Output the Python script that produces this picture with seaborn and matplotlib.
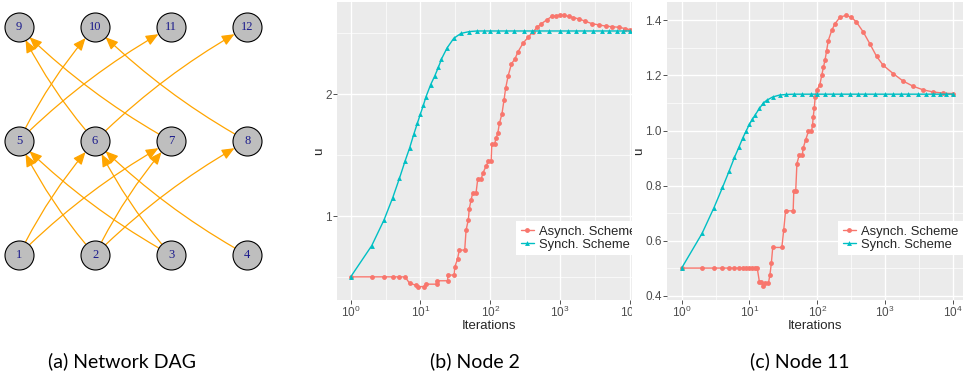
import pandas as pd
import seaborn as sns
import matplotlib.pyplot as plt
from matplotlib.patches import FancyArrowPatch, Rectangle
from matplotlib.ticker import FixedLocator, FixedFormatter

W, H = 973, 381

# ---- (a) network DAG: 3 layers of 4 nodes
node_id = [1, 2, 3, 4, 5, 6, 7, 8, 9, 10, 11, 12]
node_col = [0, 1, 2, 3, 0, 1, 2, 3, 0, 1, 2, 3]
node_row = [0, 0, 0, 0, 1, 1, 1, 1, 2, 2, 2, 2]
edge_src = [1, 1, 2, 2, 2, 3, 3, 4, 5, 5, 6, 6, 7, 8]
edge_dst = [6, 7, 5, 7, 8, 5, 6, 6, 10, 11, 9, 12, 9, 10]

# ---- (b) node 2
b_async_x = [1, 2, 3, 4, 5, 6, 7, 8.5, 9.2, 11.2, 11.9, 17.1, 17.5, 24.4, 24.9, 30.4,
             31, 34, 36, 43, 45, 48.5, 50, 53, 56, 62.5, 66, 74, 78, 87, 94, 103, 105,
             115, 121, 128, 135, 147, 157, 166, 180, 201, 225, 250, 295, 350, 412, 470,
             540, 640, 760, 870, 1000, 1150, 1320, 1550, 1840, 2300, 2850, 3600, 4500,
             5600, 7000, 8500, 10000]
b_async_y = [0.5, 0.5, 0.5, 0.5, 0.5, 0.5, 0.447, 0.433, 0.42, 0.42, 0.44, 0.44, 0.468,
             0.468, 0.515, 0.515, 0.58, 0.65, 0.72, 0.72, 0.885, 0.97, 1.06, 1.13, 1.19,
             1.19, 1.30, 1.30, 1.35, 1.41, 1.45, 1.45, 1.59, 1.59, 1.64, 1.68, 1.76, 1.84,
             1.95, 2.05, 2.15, 2.25, 2.29, 2.35, 2.42, 2.47, 2.515, 2.55, 2.58, 2.61, 2.64,
             2.645, 2.65, 2.648, 2.64, 2.63, 2.62, 2.60, 2.58, 2.57, 2.56, 2.555, 2.55,
             2.54, 2.53]
b_sync_x = [1, 2, 3, 4, 5, 6, 7, 8, 9, 10, 11, 12, 14, 16, 18, 20, 24, 30, 38, 50, 65,
            80, 100, 130, 170, 220, 300, 400, 500, 700, 1000, 1300, 1700, 2200, 3000,
            4000, 5000, 6500, 8000, 10000]
b_sync_y = [0.5, 0.756, 0.967, 1.15, 1.31, 1.45, 1.56, 1.67, 1.76, 1.84, 1.91, 1.98,
            2.08, 2.15, 2.22, 2.29, 2.38, 2.46, 2.50, 2.515, 2.52, 2.52, 2.52, 2.52, 2.52,
            2.52, 2.52, 2.52, 2.52, 2.52, 2.52, 2.52, 2.52, 2.52, 2.52, 2.52, 2.52, 2.52,
            2.52, 2.52]

# ---- (c) node 11
c_async_x = [1, 2, 3, 4, 5, 6, 7, 8, 9, 10, 11, 12, 13, 14, 15, 16, 17, 19, 20, 21, 22,
             30, 32, 34, 44, 45, 48, 50, 54, 60, 62, 67, 74, 82, 85, 87, 90, 93, 98, 109,
             116, 123, 130, 137, 145, 163, 182, 216, 262, 317, 377, 475, 595, 748, 934,
             1310, 1830, 2570, 3600, 5060, 7100, 10000]
c_async_y = [0.5, 0.5, 0.5, 0.5, 0.5, 0.5, 0.5, 0.5, 0.5, 0.5, 0.5, 0.5, 0.5, 0.45, 0.45,
             0.435, 0.445, 0.445, 0.475, 0.518, 0.575, 0.575, 0.64, 0.708, 0.708, 0.78,
             0.78, 0.88, 0.91, 0.91, 0.937, 0.965, 0.997, 0.997, 1.02, 1.05, 1.08, 1.122,
             1.146, 1.167, 1.20, 1.23, 1.257, 1.29, 1.327, 1.364, 1.388, 1.412, 1.418,
             1.412, 1.394, 1.358, 1.315, 1.269, 1.237, 1.207, 1.18, 1.161, 1.148, 1.14,
             1.136, 1.134]
c_sync_x = [1, 2, 3, 4, 5, 6, 7, 8, 9, 10, 11, 12, 14, 16, 18, 22, 28, 35, 45, 60, 80,
            100, 130, 170, 220, 300, 400, 500, 700, 1000, 1300, 1700, 2200, 3000, 4000,
            5000, 6500, 8000, 10000]
c_sync_y = [0.5, 0.626, 0.72, 0.793, 0.852, 0.902, 0.94, 0.974, 1.0, 1.023, 1.04, 1.055,
            1.08, 1.10, 1.11, 1.122, 1.129, 1.131, 1.132, 1.132, 1.132, 1.132, 1.132,
            1.132, 1.132, 1.132, 1.132, 1.132, 1.132, 1.132, 1.132, 1.132, 1.132, 1.132,
            1.132, 1.132, 1.132, 1.132, 1.132]

schemes = ['Asynch. Scheme', 'Synch. Scheme']
colors = {'Asynch. Scheme': '#F8766D', 'Synch. Scheme': '#00BFC4'}
mark = {'Asynch. Scheme': 'o', 'Synch. Scheme': '^'}

b_yticks, b_yminor = [1, 2], [0.5, 1.5, 2.5]
c_yticks = [0.4, 0.6, 0.8, 1.0, 1.2, 1.4]
c_yminor = [0.5, 0.7, 0.9, 1.1, 1.3]
x_ticks = [1, 10, 100, 1000, 10000]
x_minor = [10 ** 0.5, 10 ** 1.5, 10 ** 2.5, 10 ** 3.5]
x_labels = ['$10^{0}$', '$10^{1}$', '$10^{2}$', '$10^{3}$', '$10^{4}$']

captions = ['(a) Network DAG', '(b) Node 2', '(c) Node 11']


def frame(sx, sy, ix, iy):
    return pd.concat([
        pd.DataFrame({'Iterations': sx, 'u': sy, 'scheme': schemes[0]}),
        pd.DataFrame({'Iterations': ix, 'u': iy, 'scheme': schemes[1]}),
    ], ignore_index=True)


sns.set_style('darkgrid', rc={'axes.facecolor': '#EBEBEB', 'grid.color': 'white'})
plt.rcParams['font.family'] = ['Liberation Sans', 'DejaVu Sans']
plt.rcParams['mathtext.default'] = 'regular'

fig = plt.figure(figsize=(W / 100, H / 100), dpi=100)


def px_rect(left, top, right, bottom):
    return [left / W, 1 - bottom / H, (right - left) / W, (bottom - top) / H]


# ---------------- (a)
ax_a = fig.add_axes(px_rect(0, 0, 270, 300))
ax_a.set_axis_off()
ax_a.set_xlim(-0.25, 3.30)
ax_a.set_ylim(-0.395, 2.237)
pos = {n: (c, r) for n, c, r in zip(node_id, node_col, node_row)}
for s, d in zip(edge_src, edge_dst):
    ax_a.add_patch(FancyArrowPatch(pos[s], pos[d], connectionstyle='arc3,rad=-0.07',
                                   arrowstyle='-|>,head_length=7.5,head_width=3.2',
                                   mutation_scale=1, shrinkA=10.5, shrinkB=10.5,
                                   color='#FFA500', lw=0.9, zorder=1))
ax_a.scatter(node_col, node_row, s=436, c='#BEBEBE', edgecolors='black',
             linewidths=0.8, zorder=2)
for n, c, r in zip(node_id, node_col, node_row):
    ax_a.text(c, r, str(n), ha='center', va='center', color='#1A1A8C',
              fontsize=9, family='Liberation Serif', zorder=3)


# ---------------- (b), (c)
def panel(ax, df, xlim, ylim, yticks, yminor, ylabels, ylab_x):
    sns.lineplot(data=df, x='Iterations', y='u', hue='scheme', style='scheme',
                 palette=colors, markers=mark, dashes=False, estimator=None,
                 sort=False, ax=ax, lw=1.0, markersize=3.5, markeredgewidth=0)
    ax.set_xscale('log')
    ax.set_xlim(*xlim)
    ax.set_ylim(*ylim)
    ax.xaxis.set_major_locator(FixedLocator(x_ticks))
    ax.xaxis.set_major_formatter(FixedFormatter(x_labels))
    ax.xaxis.set_minor_locator(FixedLocator(x_minor))
    ax.yaxis.set_major_locator(FixedLocator(yticks))
    ax.yaxis.set_major_formatter(FixedFormatter(ylabels))
    ax.yaxis.set_minor_locator(FixedLocator(yminor))
    ax.grid(which='major', color='white', lw=1.0)
    ax.grid(which='minor', color='white', lw=0.5)
    ax.tick_params(which='major', length=2.75, width=0.6, color='#333333',
                   labelcolor='#4D4D4D', labelsize=8.5, pad=1.0, bottom=True, left=True)
    ax.tick_params(which='minor', length=0)
    for sp in ax.spines.values():
        sp.set_visible(False)
    ax.set_xlabel('Iterations', fontsize=9.5)
    ax.set_ylabel('u', fontsize=9.5)
    ax.xaxis.set_label_coords(0.5, -0.066)
    ax.yaxis.set_label_coords(ylab_x, 0.5)
    h, l = ax.get_legend_handles_labels()
    ax.legend(h, l, loc='upper right', bbox_to_anchor=(1.0, 0.265), borderaxespad=0,
              frameon=True, facecolor='white', edgecolor='none', fancybox=False,
              framealpha=1, fontsize=9.4, handlelength=1.0, handletextpad=0.4,
              borderpad=0.35, labelspacing=0.05)


ax_b = fig.add_axes(px_rect(337, 2, 641, 300))
panel(ax_b, frame(b_async_x, b_async_y, b_sync_x, b_sync_y),
      (10 ** -0.196, 10 ** 4.159), (0.31, 2.758), b_yticks, b_yminor, ['1', '2'], -0.039)
# panel (b) is cut off on its right side in the source figure
ax_b.add_patch(Rectangle((632 / W, 0), 12 / W, 1, transform=fig.transFigure,
                         facecolor='white', edgecolor='none', clip_on=False, zorder=20))

ax_c = fig.add_axes(px_rect(667, 2, 963, 300))
panel(ax_c, frame(c_async_x, c_async_y, c_sync_x, c_sync_y),
      (10 ** -0.216, 10 ** 4.147), (0.384, 1.467), c_yticks, c_yminor,
      ['0.4', '0.6', '0.8', '1.0', '1.2', '1.4'], -0.073)

# captions
for cx, txt in zip([122, 475, 800], captions):
    fig.text(cx / W, 1 - 361 / H, txt, ha='center', va='center', fontsize=14,
             family=['Lato', 'DejaVu Sans'], color='black')

fig.savefig('out.png', dpi=100)
